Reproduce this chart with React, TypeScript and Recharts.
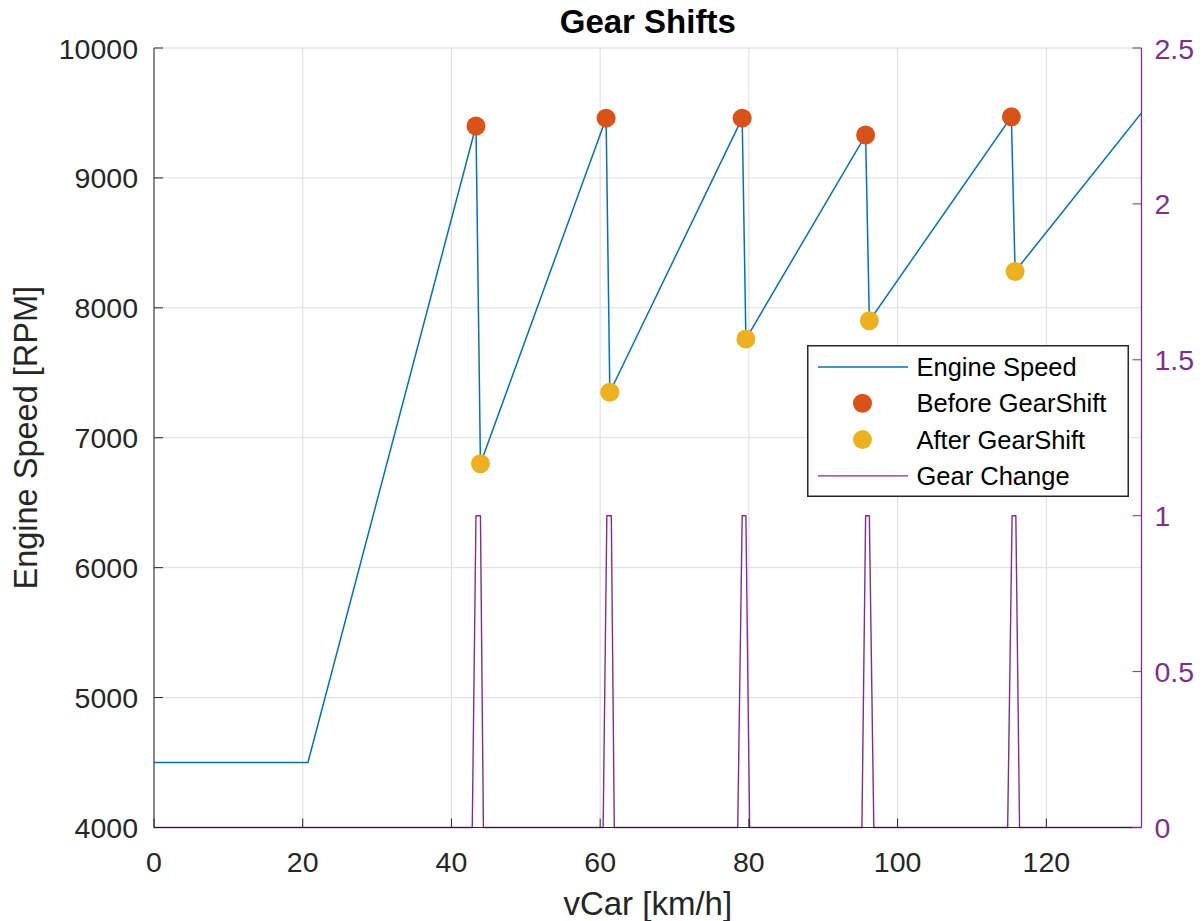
import React from 'react';
import { ComposedChart, Line, Scatter, XAxis, YAxis, CartesianGrid, Legend, Label } from 'recharts';

// Engine speed trace (vCar in km/h, rpm)
const vCar = [0, 20.7, 43.3, 43.9, 60.8, 61.3, 79.1, 79.6, 95.7, 96.2, 115.3, 115.8, 132.8];
const engineRpm = [4500, 4500, 9400, 6800, 9460, 7350, 9460, 7760, 9330, 7900, 9470, 8280, 9500];

// Shift points
const beforeV = [43.3, 60.8, 79.1, 95.7, 115.3];
const beforeRpm = [9400, 9460, 9460, 9330, 9470];
const afterV = [43.9, 61.3, 79.6, 96.2, 115.8];
const afterRpm = [6800, 7350, 7760, 7900, 8280];

// Gear change flag (right axis)
const gearV = [0, 42.8, 43.3, 43.9, 44.3, 60.4, 60.9, 61.5, 61.9, 78.5, 79.1, 79.6, 80.1, 95.2, 95.7, 96.2, 96.8, 114.8, 115.4, 115.9, 116.4, 132.8];
const gearFlag = [0, 0, 1, 1, 0, 0, 1, 1, 0, 0, 1, 1, 0, 0, 1, 1, 0, 0, 1, 1, 0, 0];

const xTicks = [0, 20, 40, 60, 80, 100, 120];
const rpmTicks = [4000, 5000, 6000, 7000, 8000, 9000, 10000];
const flagTicks = [0, 0.5, 1, 1.5, 2, 2.5];

const BLUE = '#0072BD';
const RED = '#D95319';
const YELLOW = '#EDB120';
const PURPLE = '#7E2F8E';
const AXIS = '#262626';
const FONT = '"Liberation Sans", Arial, Helvetica, sans-serif';

const engineData = vCar.map((v, i) => ({ v, rpm: engineRpm[i] }));
const beforeData = beforeV.map((v, i) => ({ v, rpm: beforeRpm[i] }));
const afterData = afterV.map((v, i) => ({ v, rpm: afterRpm[i] }));
const gearData = gearV.map((v, i) => ({ v, flag: gearFlag[i] }));

const legendItems = [
  { name: 'Engine Speed', color: BLUE, type: 'line' },
  { name: 'Before GearShift', color: RED, type: 'dot' },
  { name: 'After GearShift', color: YELLOW, type: 'dot' },
  { name: 'Gear Change', color: PURPLE, type: 'line' },
];

const BottomTick = (props: any) => {
  const { x, y, payload } = props;
  return (
    <g>
      <line x1={x} y1={y} x2={x} y2={y - 9} stroke={AXIS} strokeWidth={1} />
      <text x={x} y={y + 44} textAnchor="middle" fontSize={28.5} fontFamily={FONT} fill={AXIS}>
        {payload.value}
      </text>
    </g>
  );
};

const LeftTick = (props: any) => {
  const { x, y, payload } = props;
  return (
    <g>
      <line x1={x} y1={y} x2={x + 9} y2={y} stroke={AXIS} strokeWidth={1} />
      <text x={x - 16} y={y + 10.5} textAnchor="end" fontSize={28.5} fontFamily={FONT} fill={AXIS}>
        {payload.value}
      </text>
    </g>
  );
};

const RightTick = (props: any) => {
  const { x, y, payload } = props;
  return (
    <g>
      <line x1={x} y1={y} x2={x - 9} y2={y} stroke={PURPLE} strokeWidth={1} />
      <text x={x + 13} y={y + 10.5} textAnchor="start" fontSize={28.5} fontFamily={FONT} fill={PURPLE}>
        {payload.value}
      </text>
    </g>
  );
};

const Dot = (color: string) => (props: any) => {
  const { cx, cy } = props;
  if (cx == null || cy == null) return null;
  return <circle cx={cx} cy={cy} r={9.5} fill={color} />;
};

const LegendBox = () => (
  <svg width={322} height={152} style={{ display: 'block' }}>
    <rect x={0.75} y={0.75} width={320.5} height={150.5} fill="#fff" stroke={AXIS} strokeWidth={1.5} />
    {legendItems.map((item, i) => {
      const cy = 22 + i * 36.3;
      return (
        <g key={item.name}>
          {item.type === 'line' ? (
            <line x1={11} y1={cy} x2={101} y2={cy} stroke={item.color} strokeWidth={1.4} />
          ) : (
            <circle cx={55.5} cy={cy} r={9.5} fill={item.color} />
          )}
          <text x={109.5} y={cy + 9} fontSize={25.5} fontFamily={FONT} fill="#000">
            {item.name}
          </text>
        </g>
      );
    })}
  </svg>
);

export default function App() {
  return (
    <div style={{ position: 'absolute', left: 0, top: 0, width: 1203, height: 921, background: '#fff' }}>
      <ComposedChart width={1203} height={921} margin={{ top: 48, right: 0, bottom: 0, left: 0 }}>
        <CartesianGrid yAxisId="left" stroke="#dcdcdc" strokeWidth={1} />
        <XAxis
          dataKey="v"
          type="number"
          domain={[0, 132.8]}
          ticks={xTicks}
          allowDataOverflow
          height={93.5}
          tickSize={0}
          tickMargin={0}
          tickLine={false}
          tick={<BottomTick />}
          axisLine={{ stroke: AXIS, strokeWidth: 1 }}
        >
          <Label
            content={(p: any) => {
              const vb = p.viewBox;
              return (
                <text x={vb.x + vb.width / 2} y={915} textAnchor="middle" fontSize={33} fontFamily={FONT} fill={AXIS}>
                  vCar [km/h]
                </text>
              );
            }}
          />
        </XAxis>
        <YAxis
          yAxisId="left"
          type="number"
          domain={[4000, 10000]}
          ticks={rpmTicks}
          width={154}
          tickSize={0}
          tickMargin={0}
          tickLine={false}
          tick={<LeftTick />}
          axisLine={{ stroke: AXIS, strokeWidth: 1 }}
        >
          <Label
            content={(p: any) => {
              const vb = p.viewBox;
              const cy = vb.y + vb.height / 2;
              return (
                <text
                  x={37}
                  y={cy}
                  transform={`rotate(-90, 37, ${cy})`}
                  textAnchor="middle"
                  fontSize={32.5}
                  fontFamily={FONT}
                  fill={AXIS}
                >
                  Engine Speed [RPM]
                </text>
              );
            }}
          />
        </YAxis>
        <YAxis
          yAxisId="right"
          orientation="right"
          type="number"
          domain={[0, 2.5]}
          ticks={flagTicks}
          width={61.5}
          tickSize={0}
          tickMargin={0}
          tickLine={false}
          tick={<RightTick />}
          axisLine={{ stroke: PURPLE, strokeWidth: 1.3 }}
        />
        <Line
          yAxisId="left"
          data={engineData}
          dataKey="rpm"
          type="linear"
          stroke={BLUE}
          strokeWidth={1.5}
          dot={false}
          activeDot={false}
          isAnimationActive={false}
        />
        <Scatter yAxisId="left" data={beforeData} dataKey="rpm" fill={RED} shape={Dot(RED)} isAnimationActive={false} />
        <Scatter yAxisId="left" data={afterData} dataKey="rpm" fill={YELLOW} shape={Dot(YELLOW)} isAnimationActive={false} />
        <Line
          yAxisId="right"
          data={gearData}
          dataKey="flag"
          type="linear"
          stroke={PURPLE}
          strokeWidth={1.4}
          strokeLinejoin="round"
          dot={false}
          activeDot={false}
          isAnimationActive={false}
        />
        <Legend
          layout="vertical"
          align="center"
          verticalAlign="middle"
          content={() => <LegendBox />}
          wrapperStyle={{ left: 807, top: 345, width: 322, height: 152 }}
        />
      </ComposedChart>
      <svg width={1203} height={50} style={{ position: 'absolute', left: 0, top: 0, pointerEvents: 'none' }}>
        <text x={647.75} y={33} textAnchor="middle" fontSize={33} fontWeight="bold" fontFamily={FONT} fill="#000">
          Gear Shifts
        </text>
      </svg>
    </div>
  );
}
